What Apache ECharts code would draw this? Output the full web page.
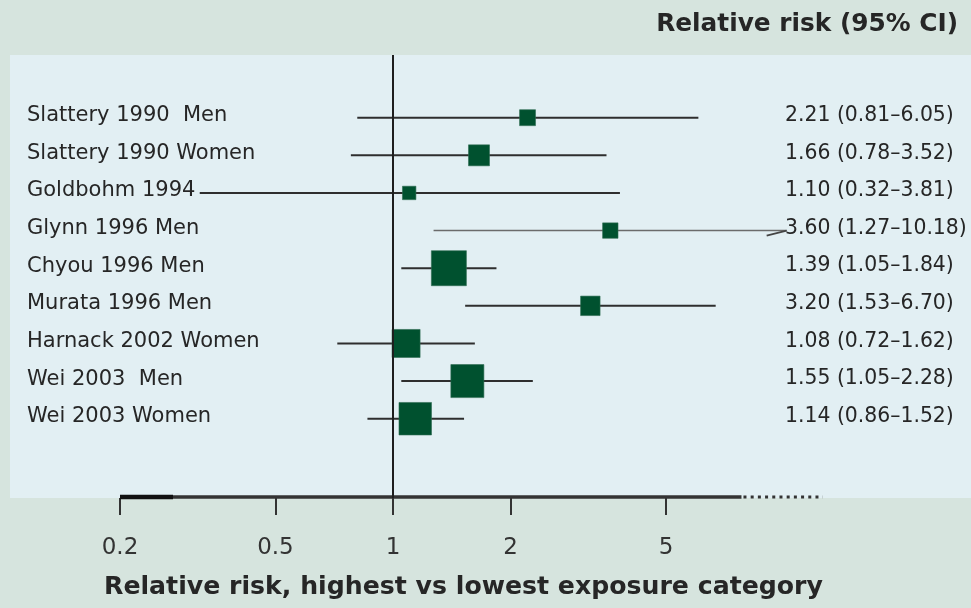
<!DOCTYPE html>
<html>
<head>
<meta charset="utf-8">
<title>Relative risk forest plot</title>
<script src="https://cdn.jsdelivr.net/npm/echarts@6/dist/echarts.min.js"></script>
<style>
  html, body { margin: 0; padding: 0; background: #d6e4de; }
  #chart { width: 971px; height: 608px; }
</style>
</head>
<body>
<div id="chart"></div>
<script>
// Studies, point estimates and 95% confidence limits
const studies = [
  'Slattery 1990  Men',
  'Slattery 1990 Women',
  'Goldbohm 1994',
  'Glynn 1996 Men',
  'Chyou 1996 Men',
  'Murata 1996 Men',
  'Harnack 2002 Women',
  'Wei 2003  Men',
  'Wei 2003 Women'
];
const relativeRisk = [2.21, 1.66, 1.10, 3.60, 1.39, 3.20, 1.08, 1.55, 1.14];
const ciLow = [0.81, 0.78, 0.32, 1.27, 1.05, 1.53, 0.72, 1.05, 0.86];
const ciHigh = [6.05, 3.52, 3.81, 10.18, 1.84, 6.70, 1.62, 2.28, 1.52];
// Relative study weights (%), shown as square area
const studyWeight = [4.5, 7.8, 3.2, 4.2, 21.7, 6.7, 13.9, 19.3, 18.7];
// Tick labels on the log axis
const tickValues = [0.2, 0.5, 1, 2, 5];
// Extent of the drawn axis bar: solid part, then dotted continuation
const axisBar = [0.2, 7.8, 12.6];

const FACE = "'DejaVu Sans', 'Open Sans', sans-serif";
const INK = '#262626';
const GREEN = '#00512f';

const fmt = v => v.toFixed(2);
const rowData = studies.map((name, i) => [i, ciLow[i], ciHigh[i], relativeRisk[i]]);
const pointData = studies.map((name, i) => [relativeRisk[i], i]);

const chart = echarts.init(document.getElementById('chart'));

chart.setOption({
  backgroundColor: '#d6e4de',
  animation: false,
  grid: {
    left: 10, right: 0, top: 55, bottom: 110,
    show: true, backgroundColor: '#e2eff3', borderWidth: 0
  },
  xAxis: {
    type: 'log',
    logBase: 10,
    min: 0.10457,
    max: 30.18,
    position: 'bottom',
    axisLine: { show: false, onZero: false },
    splitLine: { show: false },
    minorTick: { show: false },
    axisTick: {
      show: true,
      customValues: tickValues,
      length: 17,
      lineStyle: { color: '#333', width: 2 }
    },
    axisLabel: {
      show: true,
      customValues: tickValues,
      formatter: v => String(v),
      fontFamily: FACE,
      fontSize: 23,
      color: '#333',
      margin: 39
    }
  },
  yAxis: {
    type: 'value',
    inverse: true,
    min: -1.666,
    max: 10.107,
    show: false
  },
  graphic: [
    {
      type: 'text',
      right: 13,
      top: 12,
      style: {
        text: 'Relative risk (95% CI)',
        font: "bold 24.8px 'DejaVu Sans', sans-serif",
        fill: INK
      }
    },
    {
      type: 'text',
      left: 104,
      top: 575,
      style: {
        text: 'Relative risk, highest vs lowest exposure category',
        font: "bold 25.2px 'DejaVu Sans', sans-serif",
        fill: INK
      }
    }
  ],
  series: [
    {
      // confidence intervals, study names and value text
      type: 'custom',
      data: rowData,
      clip: false,
      z: 2,
      encode: { x: [1, 2], y: 0 },
      renderItem: (params, api) => {
        const i = api.value(0);
        const lo = api.value(1);
        const hi = api.value(2);
        const est = api.value(3);
        const a = api.coord([lo, i]);
        const b = api.coord([hi, i]);
        const open = hi > axisBar[1];
        const children = [
          {
            type: 'line',
            shape: { x1: a[0], y1: a[1], x2: b[0], y2: b[1] },
            style: open
              ? { stroke: '#6b6b6b', lineWidth: 1.5 }
              : { stroke: '#2e2e2e', lineWidth: 2 }
          },
          {
            type: 'text',
            style: {
              x: 27, y: a[1] - 2,
              text: studies[params.dataIndex],
              font: "21px 'DejaVu Sans', sans-serif",
              fill: INK,
              verticalAlign: 'middle', align: 'left'
            }
          },
          {
            type: 'text',
            style: {
              x: 785, y: a[1] - 2,
              text: fmt(est) + ' (' + fmt(lo) + '\u2013' + fmt(hi) + ')',
              font: "20.4px 'DejaVu Sans', sans-serif",
              fill: INK,
              verticalAlign: 'middle', align: 'left'
            }
          }
        ];
        if (open) {
          // arrow barb: interval runs past the plotted range
          children.push({
            type: 'line',
            shape: { x1: b[0] - 20, y1: b[1] + 5, x2: b[0], y2: b[1] },
            style: { stroke: '#444', lineWidth: 1.8 }
          });
        }
        return { type: 'group', children };
      }
    },
    {
      // horizontal axis bar
      type: 'custom',
      data: [axisBar],
      clip: false,
      z: 3,
      renderItem: (params, api) => {
        const cs = params.coordSys;
        const y = cs.y + cs.height - 1;
        const x0 = api.coord([api.value(0), 0])[0];
        const x1 = api.coord([api.value(1), 0])[0];
        const x2 = api.coord([api.value(2), 0])[0];
        return {
          type: 'group',
          children: [
            { type: 'line', shape: { x1: x0, y1: y, x2: x1, y2: y },
              style: { stroke: '#333', lineWidth: 3.5 } },
            { type: 'line', shape: { x1: x0, y1: y, x2: x0 + 53, y2: y },
              style: { stroke: '#111', lineWidth: 4.5 } },
            { type: 'line', shape: { x1: x1 + 2, y1: y, x2: x2, y2: y },
              style: { stroke: '#333', lineWidth: 3, lineDash: [3, 4.2] } }
          ]
        };
      }
    },
    {
      // point estimates, square area proportional to weight
      type: 'scatter',
      data: pointData,
      symbol: 'rect',
      symbolSize: (val, p) => 7.52 * Math.sqrt(studyWeight[p.dataIndex]),
      itemStyle: { color: GREEN, borderColor: '#2f6b52', borderWidth: 0.6, opacity: 1 },
      z: 4,
      clip: false,
      markLine: {
        silent: true,
        symbol: ['none', 'none'],
        label: { show: false },
        lineStyle: { color: '#1e1e1e', width: 2, type: 'solid' },
        data: [{ xAxis: 1 }]
      }
    }
  ]
});
</script>
</body>
</html>
